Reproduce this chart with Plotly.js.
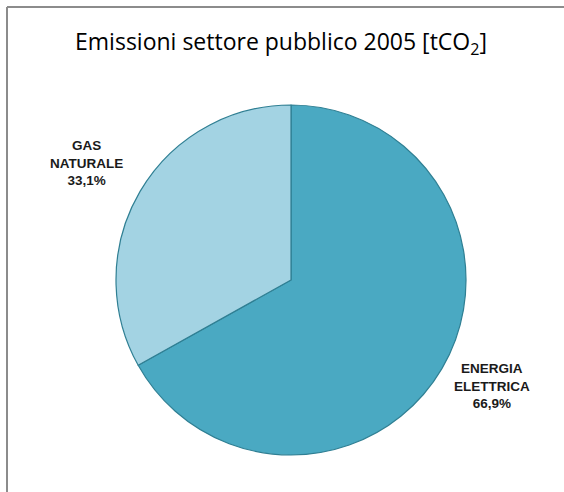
<!DOCTYPE html>
<html>
<head>
<meta charset="utf-8">
<script src="https://cdn.plot.ly/plotly-3.0.1.min.js"></script>
<style>
  html, body { margin: 0; padding: 0; background: #ffffff; }
  #chart { width: 564px; height: 492px; }
</style>
</head>
<body>
<div id="chart"></div>
<script>
const categories = ["ENERGIA<br>ELETTRICA", "GAS<br>NATURALE"];
const shares = [66.9, 33.1];
const sliceColors = ["#4aa9c2", "#a3d3e3"];
const labelPos = [[492, 386], [86, 163]]; // label anchor in pixels (x, y from top)

const W = 564, H = 492;
const cx = 291, cy = 280, r = 175;

const annotations = categories.map((c, i) => ({
  xref: "paper", yref: "paper",
  x: labelPos[i][0] / W, y: 1 - labelPos[i][1] / H,
  xanchor: "center", yanchor: "middle",
  showarrow: false,
  align: "center",
  text: "<b>" + c + "<br>" + shares[i].toFixed(1).replace(".", ",") + "%</b>",
  font: { family: "Liberation Sans, Arial, sans-serif", size: 13.5, color: "#1a1a1a" }
}));

const data = [{
  type: "pie",
  labels: categories,
  values: shares,
  sort: false,
  direction: "clockwise",
  rotation: 0,
  textinfo: "none",
  hoverinfo: "none",
  marker: { colors: sliceColors, line: { color: "#2f7f93", width: 1.2 } },
  domain: { x: [(cx - r) / W, (cx + r) / W], y: [1 - (cy + r) / H, 1 - (cy - r) / H] },
  showlegend: false
}];

const layout = {
  width: W, height: H,
  margin: { l: 0, r: 0, t: 0, b: 0 },
  paper_bgcolor: "#ffffff",
  title: {
    text: "Emissioni settore pubblico 2005 [tCO<sub>2</sub>]",
    font: { family: "Open Sans, Liberation Sans, sans-serif", size: 23, color: "#000000" },
    x: 281 / W, xanchor: "center",
    y: 1 - 42 / H, yanchor: "middle",
    xref: "paper", yref: "paper"
  },
  annotations: annotations,
  shapes: [
    { type: "line", xref: "paper", yref: "paper", x0: 7 / W, x1: 1, y0: 1 - 7 / H, y1: 1 - 7 / H, line: { color: "#8c8c8c", width: 2 } },
    { type: "line", xref: "paper", yref: "paper", x0: 7 / W, x1: 7 / W, y0: 0, y1: 1 - 7 / H, line: { color: "#8c8c8c", width: 2 } }
  ]
};

Plotly.newPlot("chart", data, layout, { staticPlot: true, displayModeBar: false });
</script>
</body>
</html>
